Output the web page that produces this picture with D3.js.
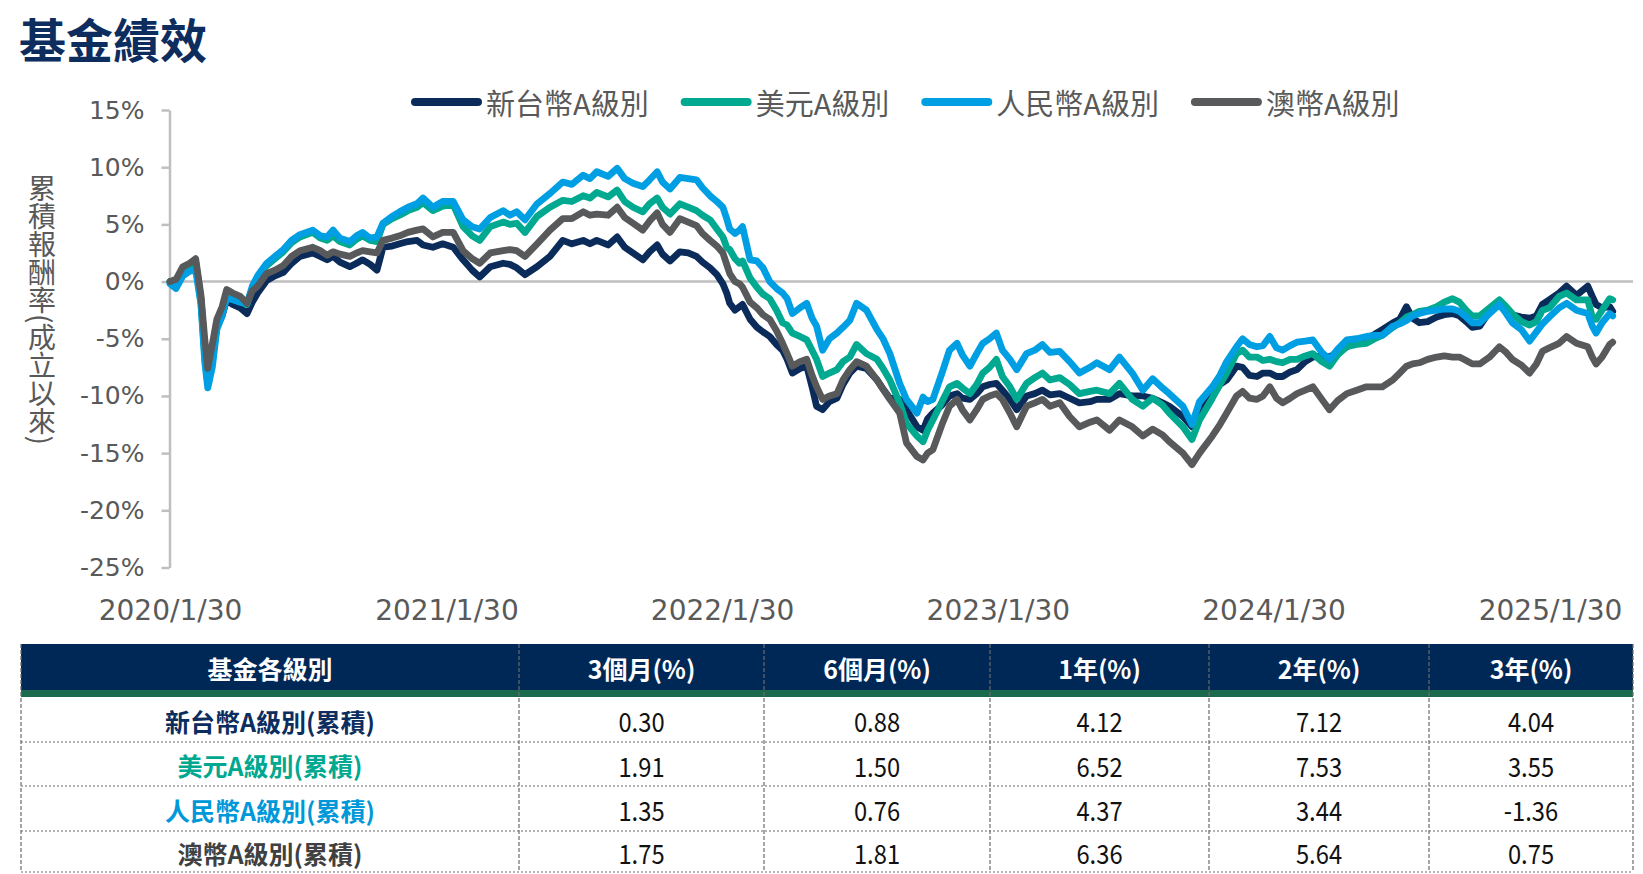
<!DOCTYPE html>
<html>
<head>
<meta charset="utf-8">
<script src="https://cdn.jsdelivr.net/npm/d3@7"></script>
<style>
	body { margin: 0; background: #fff; }
	svg { display: block; }
</style>
</head>
<body>
<svg id="chart" width="1643" height="874"></svg>
<script>
(function () {
	//Data (cumulative return, %)
	var dates = [
		"2020-01-30","2020-02-07","2020-02-16","2020-02-25","2020-03-04","2020-03-11","2020-03-16","2020-03-20","2020-03-26","2020-04-01",
		"2020-04-08","2020-04-14","2020-04-22","2020-05-02","2020-05-11","2020-05-18","2020-05-25","2020-06-06","2020-06-17","2020-06-28",
		"2020-07-09","2020-07-20","2020-08-06","2020-08-16","2020-08-25","2020-09-02","2020-09-11","2020-09-24","2020-10-03","2020-10-11",
		"2020-10-21","2020-10-30","2020-11-07","2020-11-19","2020-11-29","2020-12-10","2020-12-22","2020-12-30","2021-01-12","2021-01-25",
		"2021-02-08","2021-02-21","2021-03-05","2021-03-15","2021-03-29","2021-04-15","2021-04-24","2021-05-03","2021-05-14","2021-05-30",
		"2021-06-16","2021-07-03","2021-07-15","2021-07-30","2021-08-08","2021-08-17","2021-09-01","2021-09-13","2021-09-23","2021-10-04",
		"2021-10-17","2021-10-26","2021-11-05","2021-11-12","2021-11-22","2021-12-05","2021-12-16","2021-12-27","2022-01-04","2022-01-14",
		"2022-01-23","2022-01-31","2022-02-05","2022-02-09","2022-02-16","2022-02-22","2022-02-26","2022-03-08","2022-03-17","2022-03-25",
		"2022-04-03","2022-04-12","2022-04-20","2022-04-26","2022-05-03","2022-05-13","2022-05-22","2022-05-29","2022-06-04","2022-06-12",
		"2022-06-21","2022-07-01","2022-07-09","2022-07-18","2022-07-27","2022-08-09","2022-08-23","2022-08-31","2022-09-09","2022-09-22",
		"2022-10-01","2022-10-15","2022-10-23","2022-10-29","2022-11-05","2022-11-17","2022-11-27","2022-12-07","2022-12-14","2022-12-24",
		"2023-01-02","2023-01-10","2023-01-19","2023-01-28","2023-02-05","2023-02-15","2023-02-24","2023-03-09","2023-03-20","2023-03-30",
		"2023-04-09","2023-04-22","2023-05-05","2023-05-18","2023-06-01","2023-06-10","2023-06-27","2023-07-10","2023-07-27","2023-08-10",
		"2023-08-23","2023-09-05","2023-09-14","2023-10-02","2023-10-14","2023-10-24","2023-11-10","2023-11-20","2023-11-29","2023-12-12",
		"2023-12-20","2023-12-29","2024-01-08","2024-01-16","2024-01-25","2024-02-03","2024-02-11","2024-02-21","2024-03-01","2024-03-12",
		"2024-03-22","2024-04-03","2024-04-13","2024-04-24","2024-05-06","2024-05-19","2024-06-01","2024-06-12","2024-06-22","2024-07-06",
		"2024-07-15","2024-07-24","2024-08-01","2024-08-10","2024-08-21","2024-09-02","2024-09-12","2024-09-23","2024-10-02","2024-10-11",
		"2024-10-19","2024-10-29","2024-11-11","2024-11-24","2024-12-03","2024-12-11","2024-12-23","2025-01-03","2025-01-12","2025-01-20",
		"2025-01-29","2025-02-11","2025-02-21","2025-03-06","2025-03-21","2025-03-27","2025-04-01","2025-04-09","2025-04-19","2025-04-23"
	];

	//新台幣A級別
	var twdA = [
		0, -0.3, 0.8, 1.3, 1.7, -1.5, -6.0, -8.6, -6.5, -4.0,
		-3.0, -1.6, -2.0, -2.3, -2.8, -1.8, -1.0, 0.1, 0.5, 0.8,
		1.6, 2.2, 2.5, 2.2, 1.9, 2.2, 1.7, 1.3, 1.6, 1.9,
		1.5, 1.0, 3.0, 3.1, 3.3, 3.5, 3.6, 3.2, 3.0, 3.3,
		3.0, 1.9, 1.0, 0.4, 1.3, 1.6, 1.5, 1.2, 0.6, 1.3,
		2.2, 3.6, 3.3, 3.6, 3.3, 3.6, 3.2, 3.9, 3.0, 2.5,
		1.9, 2.6, 3.2, 2.4, 1.8, 2.6, 2.5, 2.2, 1.7, 1.2,
		0.6, -0.2, -1.0, -1.9, -2.5, -2.2, -2.0, -3.3, -4.0, -4.4,
		-4.8, -5.5, -6.0, -6.8, -8.0, -7.6, -7.4, -9.2, -10.9, -11.2,
		-10.5, -10.2, -9.0, -8.0, -7.4, -7.6, -8.6, -9.4, -10.2, -10.3,
		-11.2, -12.7, -13.0, -12.0, -11.5, -10.8, -10.0, -9.8, -10.2, -10.3,
		-9.8, -9.2, -9.0, -8.9, -9.5, -10.3, -11.2, -10.0, -9.8, -9.5,
		-9.9, -9.8, -10.2, -10.6, -10.5, -10.3, -10.3, -9.8, -10.0, -10.0,
		-10.2, -10.6, -10.9, -11.8, -12.7, -11.5, -10.0, -9.0, -8.6, -7.4,
		-7.5, -8.2, -8.3, -8.0, -8.0, -8.3, -8.3, -7.9, -7.7, -7.0,
		-6.6, -6.5, -6.6, -6.2, -5.7, -5.3, -5.0, -4.6, -4.2, -3.6,
		-3.3, -2.2, -3.2, -3.6, -3.5, -3.1, -2.9, -2.8, -3.0, -3.5,
		-4.0, -3.9, -2.6, -1.8, -2.4, -2.9, -3.1, -3.2, -3.0, -2.0,
		-1.6, -1.0, -0.4, -1.2, -0.4, -1.3, -2.0, -2.3, -2.2, -2.6
	];

	//美元A級別
	var usdA = [
		0, -0.4, 0.6, 1.1, 1.4, -1.8, -6.5, -9.0, -7.0, -4.0,
		-2.8, -1.3, -1.5, -1.8, -2.0, -0.6, 0.3, 1.4, 2.0, 2.6,
		3.4, 3.9, 4.3, 3.8, 3.6, 4.0, 3.5, 3.2, 3.7, 4.0,
		3.6, 3.5, 5.0, 5.5, 5.8, 6.2, 6.5, 6.9, 6.2, 6.6,
		6.7, 4.8, 4.0, 3.6, 4.8, 5.2, 5.0, 5.1, 4.3, 5.7,
		6.5, 7.1, 7.0, 7.5, 7.3, 7.8, 7.4, 8.0, 7.0, 6.5,
		6.1, 6.8, 7.3, 6.5, 5.9, 6.8, 6.5, 6.2, 5.8, 5.4,
		4.6, 3.9, 3.0, 2.8, 2.0, 1.6, 1.8, 0.3, -0.5, -1.1,
		-1.5, -2.5, -3.6, -3.8, -4.5, -4.8, -5.1, -6.0, -6.8, -8.3,
		-8.0, -7.7, -7.0, -6.6, -5.5, -6.3, -6.8, -7.6, -8.6, -10.6,
		-12.4, -13.5, -14.0, -13.0, -12.1, -10.5, -9.2, -8.9, -9.3, -9.8,
		-9.0, -8.0, -7.5, -6.8, -8.3, -9.2, -10.3, -8.9, -8.4, -8.0,
		-8.6, -8.4, -9.0, -9.8, -9.6, -9.5, -9.8, -8.9, -10.3, -10.9,
		-10.2, -10.8, -11.5, -12.7, -13.8, -12.1, -10.2, -9.0, -8.0, -6.3,
		-6.0, -6.6, -6.6, -6.9, -6.8, -7.0, -7.1, -6.8, -6.8, -6.5,
		-6.3, -7.0, -7.4, -6.4, -5.7, -5.5, -5.4, -5.0, -4.7, -4.0,
		-3.6, -3.1, -2.9, -2.6, -2.5, -2.2, -1.8, -1.5, -1.8, -2.5,
		-3.0, -3.0, -2.3, -1.6, -2.2, -2.8, -3.5, -3.8, -3.5, -2.5,
		-2.3, -1.3, -1.0, -1.6, -1.6, -3.1, -3.3, -2.5, -1.5, -1.6
	];

	//人民幣A級別
	var cnyA = [
		-0.2, -0.6, 0.5, 0.9, 1.0, -2.0, -7.0, -9.3, -7.5, -4.2,
		-3.0, -1.4, -1.6, -1.8, -1.9, -0.4, 0.5, 1.6, 2.2, 2.8,
		3.6, 4.1, 4.5, 4.0, 3.9, 4.5, 3.8, 3.5, 4.0, 4.3,
		3.8, 3.9, 5.1, 5.7, 6.1, 6.5, 6.8, 7.3, 6.5, 7.0,
		7.0, 5.4, 4.8, 4.6, 5.6, 6.2, 5.8, 6.1, 5.4, 6.8,
		7.7, 8.7, 8.5, 9.3, 9.0, 9.6, 9.2, 9.9, 9.0, 8.6,
		8.3, 8.9, 9.6, 8.7, 8.1, 9.1, 9.0, 8.9, 8.2, 7.5,
		7.0, 6.5, 5.5, 4.6, 4.2, 4.5, 4.8, 1.9, 1.8, 1.2,
		0.0, -0.6, -1.0, -1.5, -2.8, -2.3, -1.9, -3.2, -3.9, -6.0,
		-5.0, -4.5, -4.0, -3.4, -1.9, -2.5, -4.2, -5.0, -6.3, -8.9,
		-10.3, -11.5, -10.1, -10.5, -10.3, -8.0, -6.0, -5.4, -6.4, -7.4,
		-6.3, -5.4, -5.0, -4.5, -6.0, -6.8, -7.7, -6.3, -6.0, -5.5,
		-6.2, -6.1, -7.0, -8.0, -7.5, -7.1, -7.7, -6.6, -8.0, -9.5,
		-8.5, -9.3, -9.8, -10.9, -12.5, -10.5, -9.2, -8.2, -7.0, -5.7,
		-5.0, -5.5, -5.7, -5.6, -4.8, -5.8, -6.0, -5.6, -5.3, -5.2,
		-5.1, -6.2, -6.8, -5.9, -5.1, -5.0, -4.8, -4.7, -4.7, -3.9,
		-3.7, -3.4, -3.0, -2.8, -2.6, -2.5, -2.4, -2.4, -2.6, -3.1,
		-3.6, -3.6, -2.8, -2.0, -2.8, -3.6, -4.2, -5.2, -4.4, -3.7,
		-3.1, -2.3, -1.9, -2.5, -2.8, -3.9, -4.5, -3.6, -2.8, -3.0
	];

	//澳幣A級別
	var audA = [
		0, 0.2, 1.3, 1.6, 2.0, -1.2, -5.0, -7.6, -5.5, -3.3,
		-2.2, -0.7, -1.0, -1.3, -1.9, -0.8, -0.4, 0.7, 1.0, 1.4,
		2.2, 2.7, 3.0, 2.7, 2.3, 2.6, 2.4, 2.2, 2.5, 2.7,
		2.6, 2.5, 3.6, 3.8, 4.0, 4.3, 4.5, 4.6, 3.9, 4.3,
		4.3, 2.7, 2.0, 1.6, 2.5, 2.7, 2.8, 2.7, 2.2, 3.3,
		4.5, 5.5, 5.5, 6.1, 5.8, 5.9, 5.8, 6.5, 5.6, 5.1,
		4.5, 5.3, 6.0, 5.0, 4.3, 5.5, 5.2, 4.9, 4.2, 3.6,
		3.1, 2.5, 1.5, 0.7, 0.0, -0.2, -0.5, -1.8, -2.3, -2.9,
		-3.3, -4.3, -5.4, -6.3, -7.4, -7.0, -6.8, -8.2, -9.2, -10.3,
		-10.0, -9.8, -8.6, -7.7, -7.0, -7.4, -8.6, -9.4, -10.3, -11.5,
		-14.1, -15.3, -15.6, -15.0, -14.7, -12.5, -10.9, -10.3, -11.2, -12.1,
		-11.2, -10.3, -10.0, -9.8, -10.3, -11.5, -12.7, -10.9, -10.6, -10.3,
		-10.9, -10.6, -11.8, -12.7, -12.3, -12.1, -13.0, -12.1, -12.7, -13.5,
		-12.9, -13.4, -14.0, -15.0, -16.0, -15.0, -13.5, -12.5, -11.5, -10.0,
		-9.6, -10.2, -10.3, -10.0, -9.2, -10.2, -10.6, -10.2, -9.8, -9.5,
		-9.2, -10.3, -11.2, -10.4, -9.8, -9.5, -9.2, -9.2, -9.2, -8.6,
		-8.0, -7.4, -7.2, -7.1, -6.8, -6.6, -6.5, -6.6, -6.6, -6.9,
		-7.2, -7.2, -6.6, -5.7, -6.2, -6.8, -7.3, -8.0, -7.2, -6.1,
		-5.8, -5.4, -4.8, -5.4, -5.7, -6.6, -7.2, -6.6, -5.5, -5.3
	];

	var seriesNames = ["新台幣A級別", "美元A級別", "人民幣A級別", "澳幣A級別"];
	var yTicks = [-25, -20, -15, -10, -5, 0, 5, 10, 15];
	var xTickLabels = ["2020/1/30", "2021/1/30", "2022/1/30", "2023/1/30", "2024/1/30", "2025/1/30"];

	//Performance table
	var tableHeader = ["基金各級別", "3個月(%)", "6個月(%)", "1年(%)", "2年(%)", "3年(%)"];
	var tableRowNames = ["新台幣A級別(累積)", "美元A級別(累積)", "人民幣A級別(累積)", "澳幣A級別(累積)"];
	var tableValues = [
		["0.30", "0.88", "4.12", "7.12", "4.04"],
		["1.91", "1.50", "6.52", "7.53", "3.55"],
		["1.35", "0.76", "4.37", "3.44", "-1.36"],
		["1.75", "1.81", "6.36", "5.64", "0.75"]
	];

	var colors = ["#0b2c5a", "#00a98f", "#009fe3", "#58595b"];
	var labelGrey = "#595959";
	var cjk = "'Noto Sans CJK TC', 'Noto Sans CJK SC', sans-serif";
	var latin = "'DejaVu Sans', Verdana, sans-serif";

	var svg = d3.select("#chart");

	var parseDate = d3.timeParse("%Y-%m-%d");
	var parseTick = d3.timeParse("%Y/%m/%d");
	var xTickDates = xTickLabels.map(parseTick);
	var allSeries = [twdA, usdA, cnyA, audA].map(function (vals, k) {
		return {
			name: seriesNames[k],
			color: colors[k],
			points: vals.map(function (v, i) { return { date: parseDate(dates[i]), v: v }; })
		};
	});

	//Scales
	var xScale = d3.scaleTime()
		.domain([xTickDates[0], xTickDates[xTickDates.length - 1]])
		.range([170, 1550]);

	var yScale = d3.scaleLinear()
		.domain([-25, 15])
		.range([567.5, 110]);

	//Title
	svg.append("text")
		.attr("x", 19)
		.attr("y", 58)
		.attr("font-family", cjk)
		.attr("font-weight", 700)
		.attr("font-size", 47)
		.attr("fill", "#0c2d5e")
		.text("基金績效");

	//Y axis
	var yAxis = svg.append("g")
		.attr("transform", "translate(169.5,0)")
		.call(d3.axisLeft(yScale)
			.tickValues(yTicks)
			.tickFormat(function (d) { return d + "%"; })
			.tickSize(8)
			.tickSizeOuter(0)
			.tickPadding(17));
	yAxis.select(".domain").attr("stroke", "#bfbfbf").attr("stroke-width", 2.5);
	yAxis.selectAll(".tick line").attr("stroke", "#bfbfbf").attr("stroke-width", 2.5);
	yAxis.selectAll(".tick text")
		.attr("font-family", latin)
		.attr("font-size", 25)
		.attr("fill", labelGrey);

	//Zero line
	svg.append("line")
		.attr("x1", 169)
		.attr("x2", 1633)
		.attr("y1", yScale(0))
		.attr("y2", yScale(0))
		.attr("stroke", "#bfbfbf")
		.attr("stroke-width", 2.5);

	//X axis labels
	var xAxis = svg.append("g")
		.attr("transform", "translate(0,590)")
		.call(d3.axisBottom(xScale)
			.tickValues(xTickDates)
			.tickFormat(function (d, i) { return xTickLabels[i]; })
			.tickSize(0)
			.tickPadding(10));
	xAxis.select(".domain").remove();
	xAxis.selectAll(".tick text")
		.attr("font-family", latin)
		.attr("font-size", 28)
		.attr("fill", labelGrey);

	//Y axis title, written vertically
	svg.append("text")
		.attr("x", 42)
		.attr("y", 174)
		.style("writing-mode", "vertical-rl")
		.attr("font-family", cjk)
		.attr("font-size", 28)
		.attr("fill", labelGrey)
		.text("累積報酬率(成立以來)");

	//Lines
	var line = d3.line()
		.x(function (d) { return xScale(d.date); })
		.y(function (d) { return yScale(d.v); });

	svg.append("g")
		.selectAll("path")
		.data(allSeries)
		.enter()
		.append("path")
		.attr("d", function (d) { return line(d.points); })
		.attr("fill", "none")
		.attr("stroke", function (d) { return d.color; })
		.attr("stroke-width", 6.8)
		.attr("stroke-linejoin", "round")
		.attr("stroke-linecap", "round");

	//Legend
	var legendX = 411;
	var legendY = 102;
	allSeries.forEach(function (s) {
		svg.append("line")
			.attr("x1", legendX + 4)
			.attr("x2", legendX + 67)
			.attr("y1", legendY)
			.attr("y2", legendY)
			.attr("stroke", s.color)
			.attr("stroke-width", 8)
			.attr("stroke-linecap", "round");
		var t = svg.append("text")
			.attr("x", legendX + 75)
			.attr("y", legendY)
			.attr("dominant-baseline", "central")
			.attr("font-family", cjk)
			.attr("font-size", 29)
			.attr("fill", labelGrey)
			.text(s.name);
		legendX = legendX + 75 + t.node().getComputedTextLength() + 32;
	});

	//Table
	var colX = [21, 519, 764, 990, 1209, 1429, 1633];
	var headTop = 644, headBottom = 690, bandBottom = 697;
	var rowY = [697, 742, 786, 831, 872];
	var rowColors = ["#0c2d5e", "#00a88f", "#0098d8", "#404040"];

	svg.append("rect")
		.attr("x", colX[0]).attr("y", headTop)
		.attr("width", colX[6] - colX[0]).attr("height", headBottom - headTop)
		.attr("fill", "#002856");
	svg.append("rect")
		.attr("x", colX[0]).attr("y", headBottom)
		.attr("width", colX[6] - colX[0]).attr("height", bandBottom - headBottom)
		.attr("fill", "#1b6a4e");

	//Dotted row separators
	rowY.slice(1).forEach(function (yy) {
		svg.append("line")
			.attr("x1", colX[0]).attr("x2", colX[6])
			.attr("y1", yy).attr("y2", yy)
			.attr("stroke", "#6b6b6b")
			.attr("stroke-width", 1.2)
			.attr("stroke-dasharray", "2,2");
	});
	//Dashed column separators
	colX.forEach(function (xx) {
		svg.append("line")
			.attr("x1", xx).attr("x2", xx)
			.attr("y1", headTop).attr("y2", rowY[4])
			.attr("stroke", "#6b6b6b")
			.attr("stroke-width", 1.2)
			.attr("stroke-dasharray", "4,2");
	});

	tableHeader.forEach(function (h, i) {
		svg.append("text")
			.attr("x", (colX[i] + colX[i + 1]) / 2)
			.attr("y", (headTop + headBottom) / 2 + 1)
			.attr("text-anchor", "middle")
			.attr("dominant-baseline", "central")
			.attr("font-family", cjk)
			.attr("font-weight", 700)
			.attr("font-size", 25)
			.attr("fill", "#ffffff")
			.text(h);
	});

	tableRowNames.forEach(function (name, r) {
		var cy = (rowY[r] + rowY[r + 1]) / 2 + 1;
		svg.append("text")
			.attr("x", (colX[0] + colX[1]) / 2)
			.attr("y", cy)
			.attr("text-anchor", "middle")
			.attr("dominant-baseline", "central")
			.attr("font-family", cjk)
			.attr("font-weight", 700)
			.attr("font-size", 25)
			.attr("fill", rowColors[r])
			.text(name);
		tableValues[r].forEach(function (v, c) {
			var cx = (colX[c + 1] + colX[c + 2]) / 2;
			svg.append("text")
				.attr("transform", "translate(" + cx + "," + cy + ") scale(0.88,1)")
				.attr("text-anchor", "middle")
				.attr("dominant-baseline", "central")
				.attr("font-family", cjk)
				.attr("font-size", 27)
				.attr("fill", "#111111")
				.text(v);
		});
	});
})();
</script>
</body>
</html>
